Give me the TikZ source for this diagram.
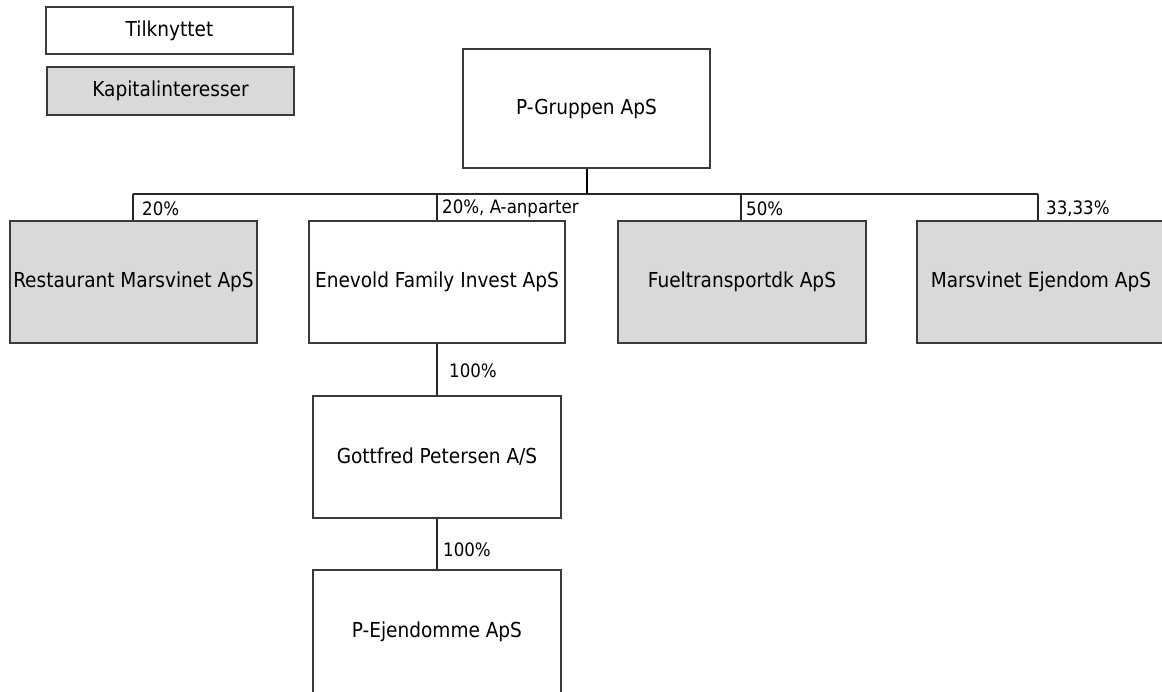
\documentclass[tikz,border=0pt]{standalone}
\usepackage{fontspec}
\setmainfont{DejaVu Sans Condensed}
\definecolor{boxgray}{HTML}{D9D9D9}
\definecolor{edge}{HTML}{3A3A3A}
\tikzset{
  box/.style={draw=edge, line width=1.3pt, fill=white, inner sep=0pt, align=center,
    font=\fontsize{20.6}{23}\selectfont},
  kbox/.style={box, fill=boxgray},
  pct/.style={anchor=west, inner sep=0pt, font=\fontsize{18.5}{21}\selectfont},
  link/.style={draw=black!85, line width=1.2pt},
  stem/.style={draw=black, line width=2pt}
}
\begin{document}
\begin{tikzpicture}[x=1pt,y=-1pt]
\clip (0,0) rectangle (1162,691);
\fill[white] (0,0) rectangle (1162,691);
% legend
\node[box, minimum width=247pt, minimum height=47pt] (tilk) at (169.5,30.5) {Tilknyttet};
\node[kbox, minimum width=247pt, minimum height=48pt] (kap) at (170.5,91) {Kapitalinteresser};
% top
\node[box, minimum width=247pt, minimum height=119pt] (pg) at (586.5,108.5) {P-Gruppen ApS};
% second row
\node[kbox, minimum width=247pt, minimum height=122pt] (rest) at (133.5,282) {Restaurant Marsvinet ApS};
\node[box, minimum width=256pt, minimum height=122pt] (enev) at (437,282) {Enevold Family Invest ApS};
\node[kbox, minimum width=248pt, minimum height=122pt] (fuel) at (742,282) {Fueltransportdk ApS};
\node[kbox, minimum width=248pt, minimum height=122pt] (mars) at (1041,282) {Marsvinet Ejendom ApS};
% lower chain
\node[box, minimum width=248pt, minimum height=122pt] (gott) at (437,457) {Gottfred Petersen A/S};
\node[box, minimum width=248pt, minimum height=124pt] (pej) at (437,632) {P-Ejendomme ApS};
% bar
\coordinate (bus) at (586.5,194);
\coordinate (bl) at (133,194);
\coordinate (br) at (1038,194);
\draw[link] (bl) -- (br);
\draw[stem] (pg.south) -- (bus);
\draw[link] (bl) -- (bl |- rest.north);
\draw[link] (enev.north |- bus) -- (enev.north);
\draw[link] (741,194) -- (741,221);
\draw[link] (br) -- (br |- mars.north);
\draw[link] (enev.south) -- (gott.north);
\draw[link] (gott.south) -- (pej.north);
% labels
\node[pct] (l1) at (142,209) {20\%};
\node[pct] (l2) at (442,209) {20\%, A-anparter};
\node[pct] (l3) at (746,209) {50\%};
\node[pct] (l4) at (1046,209) {33,33\%};
\node[pct] (l5) at (449,371) {100\%};
\node[pct] (l6) at (443,550) {100\%};
\end{tikzpicture}
\end{document}
